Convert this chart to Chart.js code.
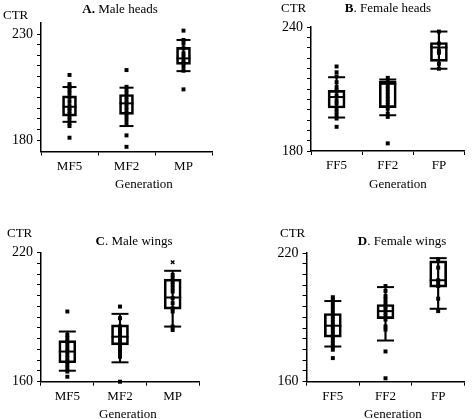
<!DOCTYPE html>
<html>
<head>
<meta charset="utf-8">
<script src="https://cdn.jsdelivr.net/npm/chart.js@4.4.0/dist/chart.umd.min.js"></script>
<style>
  html, body { margin: 0; padding: 0; background: #fff; }
  #page { position: relative; width: 475px; height: 419px; overflow: hidden;
          font-family: 'Times New Roman', 'Liberation Serif', serif; color: #000; }
  #page canvas { position: absolute; }
  .txt { position: absolute; font-size: 13px; line-height: 15px; white-space: nowrap; z-index: 2; }
  .mid { transform: translateX(-50%); }
</style>
</head>
<body>
<div id="page">
  <div class="txt mid" style="left:120px;top:1px"><b>A.</b> Male heads</div>
  <div class="txt" style="left:3px;top:7px">CTR</div>
  <div class="txt mid" style="left:144px;top:176px">Generation</div>

  <div class="txt mid" style="left:388px;top:0px"><b>B</b>. Female heads</div>
  <div class="txt" style="left:281px;top:0px">CTR</div>
  <div class="txt mid" style="left:398px;top:176px">Generation</div>

  <div class="txt mid" style="left:134px;top:233px"><b>C</b>. Male wings</div>
  <div class="txt" style="left:7px;top:225px">CTR</div>
  <div class="txt mid" style="left:128px;top:406px">Generation</div>

  <div class="txt mid" style="left:402px;top:233px"><b>D</b>. Female wings</div>
  <div class="txt" style="left:280px;top:225px">CTR</div>
  <div class="txt mid" style="left:393px;top:406px">Generation</div>
</div>

<script>
// A. Male heads
const catsA = ['MF5', 'MF2', 'MP'];
const hiA  = [205.0, 204.7, 227.2];
const q3A  = [200.8, 201.5, 223.7];
const medA = [195.7, 197.3, 218.5];
const q1A  = [191.3, 192.1, 215.7];
const loA  = [188.6, 186.6, 212.5];
const ptsA = [
    [210.7, 206.4, 205.1, 203.6, 202, 200.1, 198.1, 196, 195, 193.8, 192.3, 191, 189.4, 187.9, 186.6, 181.1],
    [213, 205.1, 203.6, 202, 200.4, 198.9, 197.3, 195.7, 194.2, 192.6, 191, 189.4, 187.5, 182.2, 176.8],
    [231.6, 227.2, 225.6, 223.3, 220.9, 219.3, 217.7, 216.2, 214.6, 212.7, 203.9]
];
const ticksA = [180, 185, 190, 195, 200, 205, 210, 215, 220, 225, 230];
const labelsA = [180, 230];

// B. Female heads
const catsB = ['FF5', 'FF2', 'FP'];
const hiB  = [215.7, 214.6, 237.8];
const q3B  = [209.3, 213.8, 232.5];
const medB = [206.1, 212.5, 230.1];
const q1B  = [200.8, 201.0, 223.4];
const loB  = [196.2, 197.3, 219.8];
const ptsB = [
    [220.9, 218.1, 216.1, 213.3, 210.9, 209.3, 206.9, 204.5, 202.9, 200.5, 198.9, 197.3, 195.7, 191.7],
    [215.4, 213.3, 211.7, 210.1, 208.5, 206.9, 205.3, 203.7, 202.1, 200.5, 198.1, 196.5, 183.7],
    [237.8, 232, 228.6, 227.5, 222.2, 219.8]
];
const ticksB = [180, 185, 190, 195, 200, 205, 210, 215, 220, 225, 230, 235, 240];
const labelsB = [180, 240];

// C. Male wings
const catsC = ['MF5', 'MF2', 'MP'];
const hiC  = [183.3, 191.5, 211.5];
const q3C  = [179.1, 186.4, 207.6];
const medC = [174.0, 180.9, 199.1];
const q1C  = [168.8, 177.1, 193.7];
const loC  = [165.1, 169.0, 185.6];
const ptsC = [
    [192.6, 181.7, 180.2, 178.6, 177.1, 175.5, 174, 172.4, 170.9, 169.3, 167.8, 166.2, 164.7, 162.3],
    [194.9, 189.5, 185.6, 184, 182.5, 180.9, 179.4, 177.9, 176.3, 174.7, 173.2, 171.6, 160],
    [209.6, 208.1, 206.5, 205, 203.4, 201.9, 198.8, 196.5, 194.1, 192.6, 185.6, 184]
];
const extremeC = [null, null, 215.5];
const ticksC = [160, 165, 170, 175, 180, 185, 190, 195, 200, 205, 210, 215, 220];
const labelsC = [160, 220];

// D. Female wings
const catsD = ['FF5', 'FF2', 'FP'];
const hiD  = [197.6, 204.1, 217.6];
const q3D  = [191.8, 196.0, 216.3];
const medD = [186.1, 192.9, 207.3];
const q1D  = [180.8, 189.4, 204.1];
const loD  = [176.4, 179.2, 194.0];
const ptsD = [
    [199.4, 198.4, 196.8, 195.2, 193.7, 192.1, 190.5, 189, 187.4, 185.8, 184.3, 182.7, 181.1, 179.6, 178, 176.4, 174.9, 171],
    [204.6, 202.3, 199.9, 198.4, 196.8, 195.2, 193.7, 192.1, 190.5, 189, 185.8, 184.3, 174.1, 161.6],
    [217.1, 213.2, 207.3, 205.7, 204.6, 198.7, 192.9]
];
const ticksD = [160, 165, 170, 175, 180, 185, 190, 195, 200, 205, 210, 215, 220];
const labelsD = [160, 220];

const FONT = "'Times New Roman', 'Liberation Serif', serif";

// one box plot built from bars (box, whisker) and point styles (median, caps, dots)
function boxDatasets(d, boxW) {
    const dots = [];
    d.pts.forEach((list, i) => list.forEach(v => dots.push({ x: d.cats[i], y: v })));

    const marker = (data, style, radius, width) => ({
        type: 'line', data, showLine: false, clip: false,
        pointStyle: style, pointRadius: radius, pointHoverRadius: radius,
        pointBorderColor: '#000', pointBackgroundColor: '#000', pointBorderWidth: width
    });

    const sets = [
        marker(dots, 'rect', 2.8, 0),
        marker(d.med, 'line', boxW / 2, 2),
        marker(d.hi, 'line', boxW / 2, 2),
        marker(d.lo, 'line', boxW / 2, 2),
        {
            type: 'bar', data: d.q1.map((v, i) => [v, d.q3[i]]), grouped: false,
            barThickness: boxW, backgroundColor: 'rgba(0,0,0,0)',
            borderColor: '#000', borderWidth: 2, borderSkipped: false
        },
        {
            type: 'bar', data: d.lo.map((v, i) => [v, d.hi[i]]), grouped: false,
            barThickness: 1.5, backgroundColor: '#000', borderWidth: 0
        }
    ];
    if (d.extreme) sets.unshift(marker(d.extreme, 'crossRot', 2.5, 1.3));
    return sets;
}

function makePanel(p) {
    const canvas = document.createElement('canvas');
    canvas.width = p.w;
    canvas.height = p.h;
    canvas.style.left = p.left + 'px';
    canvas.style.top = p.top + 'px';
    document.getElementById('page').appendChild(canvas);

    new Chart(canvas, {
        type: 'bar',
        data: { labels: p.data.cats, datasets: boxDatasets(p.data, p.boxW) },
        options: {
            responsive: false,
            animation: false,
            layout: {
                padding: { top: p.plot.top - p.top, right: p.left + p.w - p.plot.right, left: 0, bottom: 0 }
            },
            plugins: { legend: { display: false }, tooltip: { enabled: false } },
            scales: {
                x: {
                    type: 'category',
                    offset: true,
                    grid: { offset: true, drawOnChartArea: false, tickLength: 4, color: '#000' },
                    border: { color: '#000', width: 1.5 },
                    ticks: { color: '#000', padding: 3, maxRotation: 0, font: { family: FONT, size: 13 } },
                    afterFit: s => { s.height = p.top + p.h - p.plot.bottom; }
                },
                y: {
                    type: 'linear',
                    min: p.min,
                    max: p.max,
                    afterBuildTicks: s => { s.ticks = p.ticks.map(v => ({ value: v })); },
                    grid: { drawOnChartArea: false, tickLength: 4, color: '#000' },
                    border: { color: '#000', width: 1.5 },
                    ticks: {
                        autoSkip: false, color: '#000', padding: 4,
                        font: { family: FONT, size: 14 },
                        callback: v => p.labels.includes(v) ? String(v) : ''
                    },
                    afterFit: s => { s.width = p.plot.left - p.left; }
                }
            }
        }
    });
}

document.addEventListener('DOMContentLoaded', () => {
    makePanel({
        left: 0, top: 0, w: 237, h: 205,
        plot: { left: 41, right: 212, top: 23, bottom: 151.5 },
        min: 174.6, max: 235.2, ticks: ticksA, labels: labelsA, boxW: 14,
        data: { cats: catsA, hi: hiA, q3: q3A, med: medA, q1: q1A, lo: loA, pts: ptsA }
    });
    makePanel({
        left: 237, top: 0, w: 238, h: 205,
        plot: { left: 311, right: 472, top: 27, bottom: 151 },
        min: 180, max: 240, ticks: ticksB, labels: labelsB, boxW: 17,
        data: { cats: catsB, hi: hiB, q3: q3B, med: medB, q1: q1B, lo: loB, pts: ptsB }
    });
    makePanel({
        left: 0, top: 205, w: 237, h: 214,
        plot: { left: 41, right: 199, top: 252.5, bottom: 381.7 },
        min: 160, max: 220, ticks: ticksC, labels: labelsC, boxW: 17,
        data: { cats: catsC, hi: hiC, q3: q3C, med: medC, q1: q1C, lo: loC, pts: ptsC, extreme: extremeC }
    });
    makePanel({
        left: 237, top: 205, w: 238, h: 214,
        plot: { left: 306.5, right: 466, top: 253, bottom: 381.7 },
        min: 160, max: 220, ticks: ticksD, labels: labelsD, boxW: 17,
        data: { cats: catsD, hi: hiD, q3: q3D, med: medD, q1: q1D, lo: loD, pts: ptsD }
    });
});
</script>
</body>
</html>
